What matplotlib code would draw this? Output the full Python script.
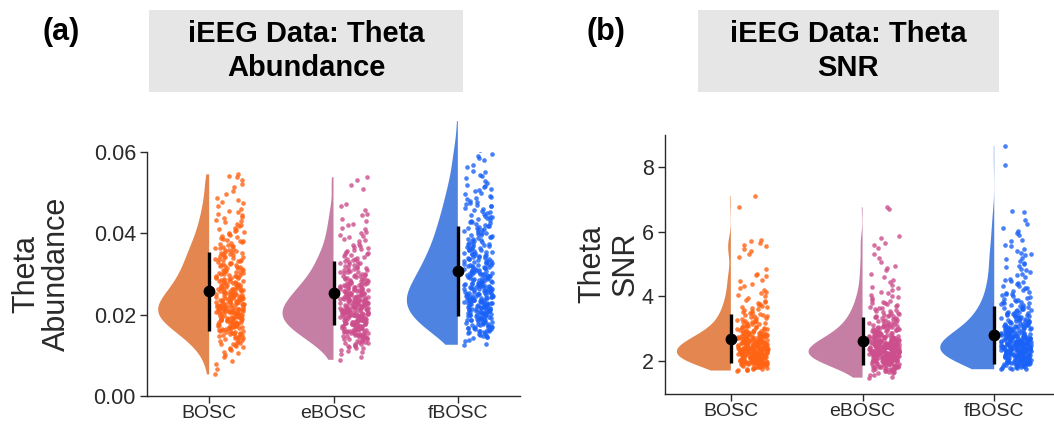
import numpy as np
import matplotlib.pyplot as plt
from matplotlib.patches import Rectangle
from matplotlib.ticker import FormatStrFormatter

methods = ['BOSC', 'eBOSC', 'fBOSC']
violin_colors = ['#E3864F', '#C67FA4', '#4E83E2']
point_colors = ['#FF6314', '#CC4E8C', '#1A62F7']

# theta abundance per channel, in units of 1e-4
abund_bosc = [53, 78, 96, 106, 112, 118, 123, 128, 131, 134, 137, 140, 143, 146, 149,
              151, 153, 155, 157, 159, 161, 163, 165, 167, 169, 171, 172, 174, 175, 177,
              178, 179, 181, 182, 184, 185, 186, 188, 189, 190, 191, 192, 193, 194, 196,
              197, 198, 199, 200, 201, 203, 204, 205, 206, 207, 208, 209, 211, 212, 213,
              214, 215, 217, 218, 219, 220, 221, 222, 224, 225, 226, 227, 228, 229, 231,
              232, 234, 235, 237, 238, 240, 241, 242, 244, 245, 247, 248, 249, 251, 253,
              254, 256, 258, 259, 261, 262, 264, 266, 267, 269, 271, 273, 275, 277, 279,
              281, 283, 285, 287, 289, 291, 293, 295, 297, 299, 302, 304, 306, 308, 311,
              314, 316, 319, 321, 324, 326, 329, 332, 334, 337, 340, 343, 345, 348, 352,
              355, 358, 361, 364, 368, 372, 376, 380, 384, 388, 393, 398, 403, 408, 413,
              420, 427, 433, 440, 447, 455, 466, 474, 487, 497, 521, 538, 545,
              66, 86, 101, 109, 115, 120, 126, 129, 132, 135, 139, 142, 145, 147, 148,
              152, 154, 156, 158, 160, 162, 164, 166, 168, 170, 170, 173, 173, 176, 176,
              178, 180, 180, 183, 183, 185, 187, 187, 189, 190, 191, 192, 194, 195, 195,
              197, 198, 200, 200, 202, 202, 204, 205, 207, 208, 209, 210, 210, 212, 213,
              214, 216, 216, 218, 219, 220, 222, 223, 223, 225, 226, 227, 229, 230, 230,
              233, 233, 235, 236, 237, 239, 240, 242, 243, 244, 246, 247, 250, 250, 252,
              254, 255, 257, 258, 260, 261, 263, 265, 266, 268, 270, 272, 274, 276, 278,
              280, 282, 284, 286, 288, 290, 292, 294, 296, 298, 300, 303, 305, 309, 310,
              313, 315, 318, 320, 323, 325, 328, 331, 335, 338, 341, 344, 347, 350, 351,
              354, 357, 360, 363, 366, 370, 374, 378, 382, 386, 391, 396, 401, 406, 411,
              417, 424, 431, 437, 444, 452, 461, 478, 483, 503, 515, 532, 541]
abund_ebosc = [89, 104, 111, 117, 122, 125, 128, 131, 134, 136, 139, 141, 143, 144, 146,
               148, 149, 151, 152, 154, 156, 157, 159, 161, 162, 163, 164, 166, 167, 168,
               169, 171, 172, 173, 174, 176, 177, 178, 179, 181, 182, 183, 184, 185, 186,
               187, 188, 189, 190, 191, 192, 193, 194, 195, 196, 197, 198, 199, 201, 202,
               203, 204, 205, 206, 207, 208, 209, 210, 211, 212, 213, 214, 215, 216, 217,
               218, 219, 221, 222, 223, 224, 226, 227, 228, 229, 230, 231, 232, 234, 235,
               236, 237, 238, 239, 241, 242, 244, 245, 247, 248, 249, 251, 252, 254, 255,
               256, 258, 259, 261, 263, 264, 266, 268, 269, 271, 273, 274, 276, 278, 279,
               281, 283, 286, 288, 290, 292, 295, 297, 299, 302, 305, 307, 310, 313, 315,
               318, 322, 325, 328, 331, 334, 337, 342, 346, 350, 354, 358, 363, 369, 375,
               383, 390, 397, 404, 413, 424, 435, 448, 466, 519, 538,
               95, 108, 114, 119, 121, 124, 127, 130, 133, 135, 138, 140, 142, 145, 147,
               147, 150, 151, 153, 155, 156, 158, 160, 160, 161, 163, 165, 165, 167, 168,
               170, 170, 172, 173, 175, 175, 177, 178, 180, 180, 182, 182, 184, 184, 186,
               187, 188, 189, 190, 191, 192, 193, 194, 196, 197, 198, 199, 200, 200, 202,
               202, 204, 204, 206, 206, 208, 208, 210, 210, 212, 213, 214, 215, 216, 217,
               219, 220, 220, 222, 223, 225, 225, 227, 228, 229, 230, 232, 233, 233, 235,
               236, 238, 239, 240, 240, 243, 243, 246, 246, 248, 250, 250, 253, 253, 255,
               257, 257, 260, 260, 262, 265, 265, 267, 270, 270, 272, 275, 275, 277, 280,
               282, 284, 285, 287, 289, 291, 294, 296, 298, 300, 304, 306, 309, 311, 314,
               317, 320, 324, 327, 330, 333, 336, 340, 344, 348, 352, 356, 361, 366, 372,
               380, 387, 394, 401, 410, 420, 430, 444, 458, 472, 510, 530]
abund_fbosc = [126, 135, 142, 146, 149, 152, 155, 158, 161, 163, 165, 167, 169, 171, 173,
               175, 177, 179, 181, 182, 184, 186, 187, 189, 191, 192, 194, 196, 197, 199,
               201, 202, 203, 205, 206, 208, 209, 210, 212, 213, 215, 216, 217, 219, 221,
               222, 223, 225, 226, 227, 228, 230, 231, 232, 234, 235, 236, 237, 239, 241,
               242, 243, 245, 246, 248, 249, 250, 252, 253, 255, 256, 257, 259, 261, 262,
               264, 265, 267, 268, 270, 271, 273, 274, 276, 277, 279, 281, 283, 285, 286,
               288, 290, 292, 294, 295, 297, 299, 301, 303, 305, 307, 309, 311, 313, 315,
               317, 319, 321, 323, 325, 328, 330, 332, 334, 337, 339, 341, 344, 346, 349,
               351, 354, 356, 359, 362, 364, 367, 370, 373, 375, 378, 382, 385, 389, 392,
               395, 398, 402, 405, 409, 412, 415, 418, 423, 427, 431, 435, 439, 443, 448,
               452, 457, 463, 468, 472, 477, 484, 490, 496, 503, 509, 516, 524, 535, 543,
               554, 568, 586, 596, 612, 676,
               129, 138, 144, 147, 151, 154, 157, 159, 160, 162, 164, 166, 168, 170, 172,
               174, 176, 178, 180, 183, 185, 186, 188, 190, 190, 193, 195, 196, 198, 200,
               200, 202, 204, 205, 207, 207, 209, 211, 211, 213, 214, 216, 218, 219, 220,
               222, 224, 224, 226, 228, 229, 229, 231, 233, 233, 235, 237, 238, 239, 240,
               242, 244, 244, 246, 247, 249, 251, 251, 253, 254, 256, 258, 260, 260, 262,
               263, 265, 266, 268, 269, 271, 272, 274, 275, 277, 278, 280, 282, 284, 287,
               289, 291, 292, 293, 296, 298, 300, 300, 302, 304, 306, 308, 310, 312, 314,
               316, 318, 320, 322, 324, 326, 329, 331, 333, 336, 338, 340, 342, 345, 347,
               350, 352, 355, 358, 360, 363, 366, 369, 371, 374, 377, 380, 384, 387, 390,
               394, 397, 400, 404, 407, 410, 414, 417, 421, 425, 429, 433, 437, 441, 446,
               450, 455, 461, 466, 470, 475, 480, 487, 493, 500, 506, 513, 520, 529, 540,
               550, 562, 580, 591, 605, 640]

# theta SNR per channel, in units of 0.01
snr_bosc = [171, 173, 175, 177, 179, 180, 182, 184, 186, 187, 189, 190, 191, 191, 192,
            193, 194, 195, 196, 196, 197, 198, 199, 200, 201, 201, 202, 203, 204, 205,
            206, 207, 208, 210, 210, 211, 212, 212, 213, 214, 214, 215, 216, 216, 217,
            218, 218, 219, 220, 220, 221, 222, 222, 223, 224, 225, 226, 227, 228, 229,
            230, 230, 231, 232, 232, 233, 234, 234, 235, 236, 236, 237, 238, 238, 239,
            240, 240, 241, 242, 243, 244, 245, 246, 247, 248, 249, 250, 251, 251, 252,
            253, 254, 255, 256, 256, 257, 258, 259, 260, 261, 262, 263, 264, 265, 266,
            267, 268, 269, 270, 271, 273, 274, 275, 277, 278, 279, 281, 282, 283, 285,
            286, 287, 289, 291, 293, 295, 297, 299, 302, 304, 306, 308, 311, 314, 317,
            320, 322, 325, 328, 332, 336, 340, 344, 348, 353, 358, 363, 368, 373, 379,
            386, 394, 405, 413, 425, 438, 446, 462, 523, 530, 557, 565, 573, 675, 710,
            172, 174, 176, 178, 181, 183, 185, 188, 188, 189, 189, 190, 190, 192, 193,
            193, 194, 195, 196, 197, 198, 198, 199, 200, 200, 202, 202, 203, 204, 205,
            206, 207, 209, 210, 211, 211, 212, 213, 213, 214, 215, 215, 216, 217, 217,
            218, 219, 219, 220, 221, 221, 222, 223, 223, 224, 225, 226, 227, 228, 229,
            230, 231, 231, 232, 233, 233, 234, 235, 235, 236, 237, 237, 238, 239, 239,
            240, 241, 241, 242, 243, 244, 245, 246, 247, 248, 249, 250, 250, 251, 252,
            253, 253, 254, 255, 256, 257, 258, 258, 259, 260, 261, 262, 263, 264, 265,
            266, 267, 268, 270, 272, 272, 274, 276, 276, 278, 280, 280, 282, 284, 284,
            286, 288, 288, 290, 292, 294, 296, 298, 300, 303, 305, 307, 310, 313, 316,
            318, 321, 324, 327, 330, 334, 338, 342, 346, 350, 356, 361, 366, 371, 377,
            384, 390, 400, 410, 420, 432, 450, 466, 470, 484, 540, 545, 560, 570]
snr_ebosc = [149, 156, 162, 165, 168, 171, 174, 176, 179, 180, 181, 182, 184, 185, 186,
             187, 189, 190, 191, 192, 194, 195, 196, 197, 199, 200, 201, 201, 202, 203,
             204, 205, 205, 206, 207, 208, 209, 209, 210, 211, 212, 213, 213, 214, 215,
             216, 217, 218, 219, 220, 220, 221, 222, 222, 223, 224, 224, 225, 226, 226,
             227, 228, 228, 229, 230, 230, 231, 232, 232, 233, 234, 235, 236, 237, 238,
             239, 240, 241, 241, 242, 243, 244, 245, 245, 246, 247, 248, 249, 249, 250,
             251, 252, 253, 253, 254, 255, 256, 257, 258, 259, 260, 261, 262, 263, 264,
             265, 266, 267, 268, 269, 270, 272, 273, 274, 275, 276, 277, 279, 281, 282,
             284, 286, 287, 289, 291, 292, 294, 296, 297, 299, 301, 303, 305, 307, 309,
             312, 314, 316, 318, 322, 325, 328, 331, 333, 336, 339, 342, 346, 350, 354,
             358, 363, 368, 373, 378, 383, 390, 397, 404, 415, 425, 436, 452, 468, 488,
             520, 548, 566, 585, 670, 675,
             152, 158, 163, 166, 169, 172, 175, 177, 178, 180, 181, 183, 183, 185, 186,
             188, 188, 190, 191, 193, 193, 195, 196, 198, 199, 200, 200, 201, 202, 203,
             203, 204, 205, 206, 206, 207, 208, 209, 210, 210, 211, 212, 212, 213, 214,
             215, 215, 216, 217, 217, 218, 219, 219, 220, 221, 221, 222, 223, 223, 224,
             225, 225, 226, 227, 227, 228, 229, 229, 230, 231, 231, 232, 233, 233, 234,
             235, 236, 237, 238, 239, 240, 240, 241, 242, 242, 243, 244, 244, 245, 246,
             246, 247, 248, 248, 249, 250, 250, 251, 252, 252, 254, 256, 257, 258, 259,
             260, 261, 262, 263, 264, 265, 266, 267, 268, 270, 271, 271, 273, 274, 276,
             277, 278, 279, 280, 282, 283, 285, 287, 288, 290, 291, 293, 295, 297, 298,
             300, 302, 304, 306, 308, 310, 313, 315, 317, 320, 323, 326, 329, 332, 335,
             338, 340, 344, 348, 352, 356, 360, 365, 370, 376, 380, 387, 394, 400, 410,
             420, 430, 445, 460, 480, 495, 505, 530, 560, 580]
snr_fbosc = [176, 178, 180, 182, 184, 185, 187, 189, 190, 191, 192, 193, 194, 195, 196,
             197, 198, 200, 201, 202, 203, 204, 206, 207, 209, 210, 211, 211, 212, 213,
             214, 215, 216, 216, 217, 218, 219, 220, 221, 221, 222, 223, 224, 225, 226,
             227, 228, 229, 230, 230, 231, 232, 233, 234, 234, 235, 236, 237, 238, 238,
             239, 240, 241, 241, 242, 243, 244, 245, 245, 246, 247, 248, 249, 250, 251,
             251, 252, 253, 254, 255, 256, 256, 257, 258, 259, 260, 261, 261, 262, 263,
             264, 265, 266, 267, 268, 269, 270, 271, 272, 273, 274, 275, 276, 277, 278,
             280, 281, 282, 283, 284, 285, 286, 287, 289, 290, 292, 293, 295, 296, 298,
             299, 301, 302, 304, 305, 307, 308, 311, 313, 315, 317, 319, 321, 323, 325,
             327, 329, 331, 334, 336, 339, 341, 344, 346, 349, 352, 355, 358, 361, 364,
             367, 372, 376, 380, 384, 388, 393, 398, 403, 408, 413, 420, 427, 433, 440,
             447, 454, 465, 474, 486, 495, 503, 515, 527, 533, 546, 558, 575, 595, 603,
             625, 665, 805, 865,
             175, 177, 179, 181, 183, 184, 186, 188, 189, 190, 191, 192, 193, 194, 195,
             196, 197, 199, 199, 200, 201, 203, 204, 205, 208, 209, 210, 211, 212, 212,
             213, 214, 215, 216, 217, 217, 218, 219, 220, 220, 221, 222, 223, 224, 225,
             226, 227, 228, 229, 230, 231, 231, 232, 233, 234, 235, 235, 236, 237, 237,
             238, 239, 240, 240, 241, 242, 243, 244, 244, 245, 246, 247, 248, 249, 250,
             251, 252, 252, 253, 254, 255, 256, 257, 257, 258, 259, 260, 260, 261, 262,
             263, 264, 265, 266, 267, 268, 269, 270, 271, 272, 273, 274, 275, 276, 278,
             279, 280, 281, 282, 283, 284, 286, 287, 288, 290, 291, 293, 294, 296, 297,
             299, 300, 302, 303, 305, 306, 309, 310, 312, 314, 316, 318, 320, 322, 324,
             326, 328, 330, 333, 335, 338, 340, 343, 345, 348, 350, 353, 357, 360, 363,
             366, 370, 374, 378, 382, 386, 390, 396, 401, 406, 411, 418, 425, 431, 438,
             445, 450, 460, 470, 480, 490, 500, 510, 520, 530, 540, 555, 570, 590, 610,
             635, 660]

# mean and sd drawn as dot + bar
abund_mean = [0.0258, 0.0253, 0.0308]
abund_sd = [0.0097, 0.0079, 0.0111]
snr_mean = [2.69, 2.63, 2.80]
snr_sd = [0.76, 0.745, 0.895]

abund = [np.array(v) / 1e4 for v in (abund_bosc, abund_ebosc, abund_fbosc)]
snr = [np.array(v) / 100 for v in (snr_bosc, snr_ebosc, snr_fbosc)]

plt.rcParams['font.family'] = ['Liberation Sans', 'DejaVu Sans']
axis_col = '#2a2a2a'


def raincloud(ax, groups, means, sds, bw):
    pos = np.arange(len(groups))
    parts = ax.violinplot(groups, positions=pos, widths=0.82, side='low',
                          showextrema=False, points=300, bw_method=bw)
    for body, c in zip(parts['bodies'], violin_colors):
        body.set_facecolor(c)
        body.set_edgecolor('none')
        body.set_alpha(1)
        body.set_clip_on(False)
    for i, vals in enumerate(groups):
        # spread the rain to the right of each cloud (quadratic weyl sequence)
        k = np.arange(len(vals))
        jit = 0.05 + 0.23 * ((k * k * 0.618034 + k * 0.414214) % 1)
        ax.scatter(i + jit, vals, s=11, color=point_colors[i], alpha=0.8,
                   linewidths=0, zorder=2)
    ax.errorbar(pos, means, yerr=sds, fmt='o', color='black', ms=7.5,
                elinewidth=2.4, capsize=0, zorder=3)
    ax.set_xticks(pos, methods)
    for s in ['top', 'right']:
        ax.spines[s].set_visible(False)
    for s in ['left', 'bottom']:
        ax.spines[s].set_color(axis_col)
        ax.spines[s].set_linewidth(1.0)
    ax.tick_params(axis='both', length=5, width=1.0, color=axis_col,
                   labelcolor=axis_col)
    ax.tick_params(axis='y', labelsize=15.5, pad=3)
    ax.tick_params(axis='x', labelsize=14, pad=1.5)


fig = plt.figure(figsize=(10.54, 4.25), dpi=100)

ax1 = fig.add_axes([147 / 1054, 29 / 425, 373 / 1054, 244 / 425])
raincloud(ax1, abund, abund_mean, abund_sd, 0.3)
ax1.set_xlim(-0.5, 2.5)
ax1.set_ylim(0, 0.06)
ax1.set_yticks([0, 0.02, 0.04, 0.06])
ax1.yaxis.set_major_formatter(FormatStrFormatter('%.2f'))
ax1.set_ylabel('Theta\nAbundance', fontsize=22, linespacing=1.05, color=axis_col)
ax1.yaxis.set_label_coords(-0.2, 0.5)

ax2 = fig.add_axes([665 / 1054, 31.5 / 425, 388.5 / 1054, 259 / 425])
raincloud(ax2, snr, snr_mean, snr_sd, 0.3)
ax2.set_xlim(-0.5, 2.45)
ax2.set_ylim(1, 9)
ax2.set_yticks([2, 4, 6, 8])
ax2.set_ylabel('Theta\nSNR', fontsize=22, linespacing=1.15, color=axis_col)
ax2.yaxis.set_label_coords(-0.062, 0.5)

# grey title strips and panel letters
for x0, w, title, letter, lx in [(149, 314, 'iEEG Data: Theta\nAbundance', '(a)', 43),
                                 (698, 301, 'iEEG Data: Theta\nSNR', '(b)', 587)]:
    fig.patches.append(Rectangle((x0 / 1054, 333 / 425), w / 1054, 82 / 425,
                                 transform=fig.transFigure, facecolor='#e6e6e6',
                                 edgecolor='none'))
    fig.text((x0 + w / 2) / 1054, 374 / 425, title, ha='center', va='center',
             fontsize=21, fontweight='bold', linespacing=1.3)
    fig.text(lx / 1054, 393 / 425, letter, ha='left', va='center',
             fontsize=22, fontweight='bold')

fig.savefig('out.png', dpi=100)
